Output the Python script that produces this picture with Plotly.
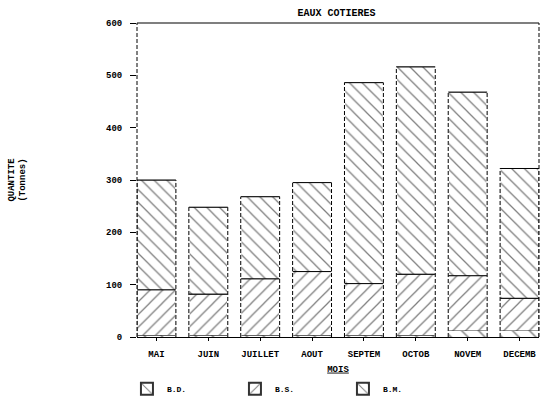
import plotly.graph_objects as go

months = ["MAI", "JUIN", "JUILLET", "AOUT", "SEPTEM", "OCTOB", "NOVEM", "DECEMB"]
bd = [3, 3, 3, 3, 3, 3, 12, 12]
bs = [87, 79, 108, 122, 99, 117, 105, 62]
bm = [210, 166, 157, 170, 384, 396, 351, 248]
y_ticks = [0, 100, 200, 300, 400, 500, 600]

FONT = "Liberation Mono"
W = 0.75
xs = list(range(len(months)))

fig = go.Figure()
series = [("B.D.", bd, "\\", 12, 0.12), ("B.S.", bs, "/", 9, 0.14), ("B.M.", bm, "\\", 9, 0.14)]
for name, vals, shape, size, sol in series:
    fig.add_trace(go.Bar(
        x=xs, y=vals, name=name, width=W,
        marker=dict(color="white", line=dict(width=0.5, color="#333333"),
                    pattern=dict(shape=shape, fgcolor="black", bgcolor="white",
                                 size=size, solidity=sol, fillmode="overlay")),
    ))

# outlines derived from data
cum1 = bd
cum2 = [a + b for a, b in zip(bd, bs)]
tot = [a + b for a, b in zip(cum2, bm)]
vx, vy, hx, hy = [], [], [], []
for i in xs:
    l, r = i - W / 2, i + W / 2
    vx += [l, l, None, r, r, None]
    vy += [0, tot[i], None, 0, tot[i], None]
    for lev in (cum2[i], tot[i]):
        hx += [l, r, None]
        hy += [lev, lev, None]
fig.add_trace(go.Scatter(x=vx, y=vy, mode="lines", line=dict(color="white", width=1.5),
                         showlegend=False, hoverinfo="skip"))
fig.add_trace(go.Scatter(x=vx, y=vy, mode="lines", line=dict(color="black", width=1, dash="4px,2px"),
                         showlegend=False, hoverinfo="skip"))
fig.add_trace(go.Scatter(x=hx, y=hy, mode="lines", line=dict(color="black", width=1),
                         showlegend=False, hoverinfo="skip"))

fig.update_layout(
    barmode="stack",
    width=550, height=402,
    margin=dict(l=137, r=11, t=23, b=65, autoexpand=False),
    paper_bgcolor="white", plot_bgcolor="white",
    font=dict(family=FONT, size=9, color="black", weight="bold"),
    title=dict(text="EAUX COTIERES", x=0.612, xanchor="center", y=0.97, yanchor="middle",
               font=dict(family=FONT, size=10, weight="bold")),
    showlegend=True,
    legend=dict(orientation="h", x=-0.025, xanchor="left", y=-0.165, yanchor="middle",
                traceorder="normal", entrywidth=63, entrywidthmode="pixels",
                font=dict(family=FONT, size=8, weight="bold"), itemsizing="constant"),
    xaxis=dict(range=[-W / 2, len(months) - 1 + W / 2], tickmode="array", tickvals=xs, ticktext=months,
               showgrid=False, zeroline=False, showline=True, linecolor="black", linewidth=1,
               ticks="outside", ticklen=3, tickcolor="black", ticklabelstandoff=5,
               title=dict(text="<u>MOIS</u>", standoff=6, font=dict(family=FONT, size=9, weight="bold"))),
    yaxis=dict(range=[0, 600], tickmode="array", tickvals=y_ticks,
               showgrid=False, zeroline=False, showline=False,
               ticks="outside", ticklen=6, tickcolor="black", ticklabelstandoff=6,
               title=dict(text="QUANTITE<br>(Tonnes)", standoff=78, font=dict(family=FONT, size=9, weight="bold"))),
)
# frame: solid top, dashed left and right
fig.add_shape(type="line", xref="paper", yref="paper", x0=0, x1=1, y0=1, y1=1, line=dict(color="black", width=1.2))
fig.add_shape(type="line", xref="paper", yref="paper", x0=0, x1=0, y0=0, y1=1, line=dict(color="black", width=1, dash="4px,2px"))
fig.add_shape(type="line", xref="paper", yref="paper", x0=1, x1=1, y0=0, y1=1, line=dict(color="black", width=1, dash="4px,2px"))

fig.write_html("out.html", config={"displayModeBar": False},
               post_script="document.body.style.margin='0';")
